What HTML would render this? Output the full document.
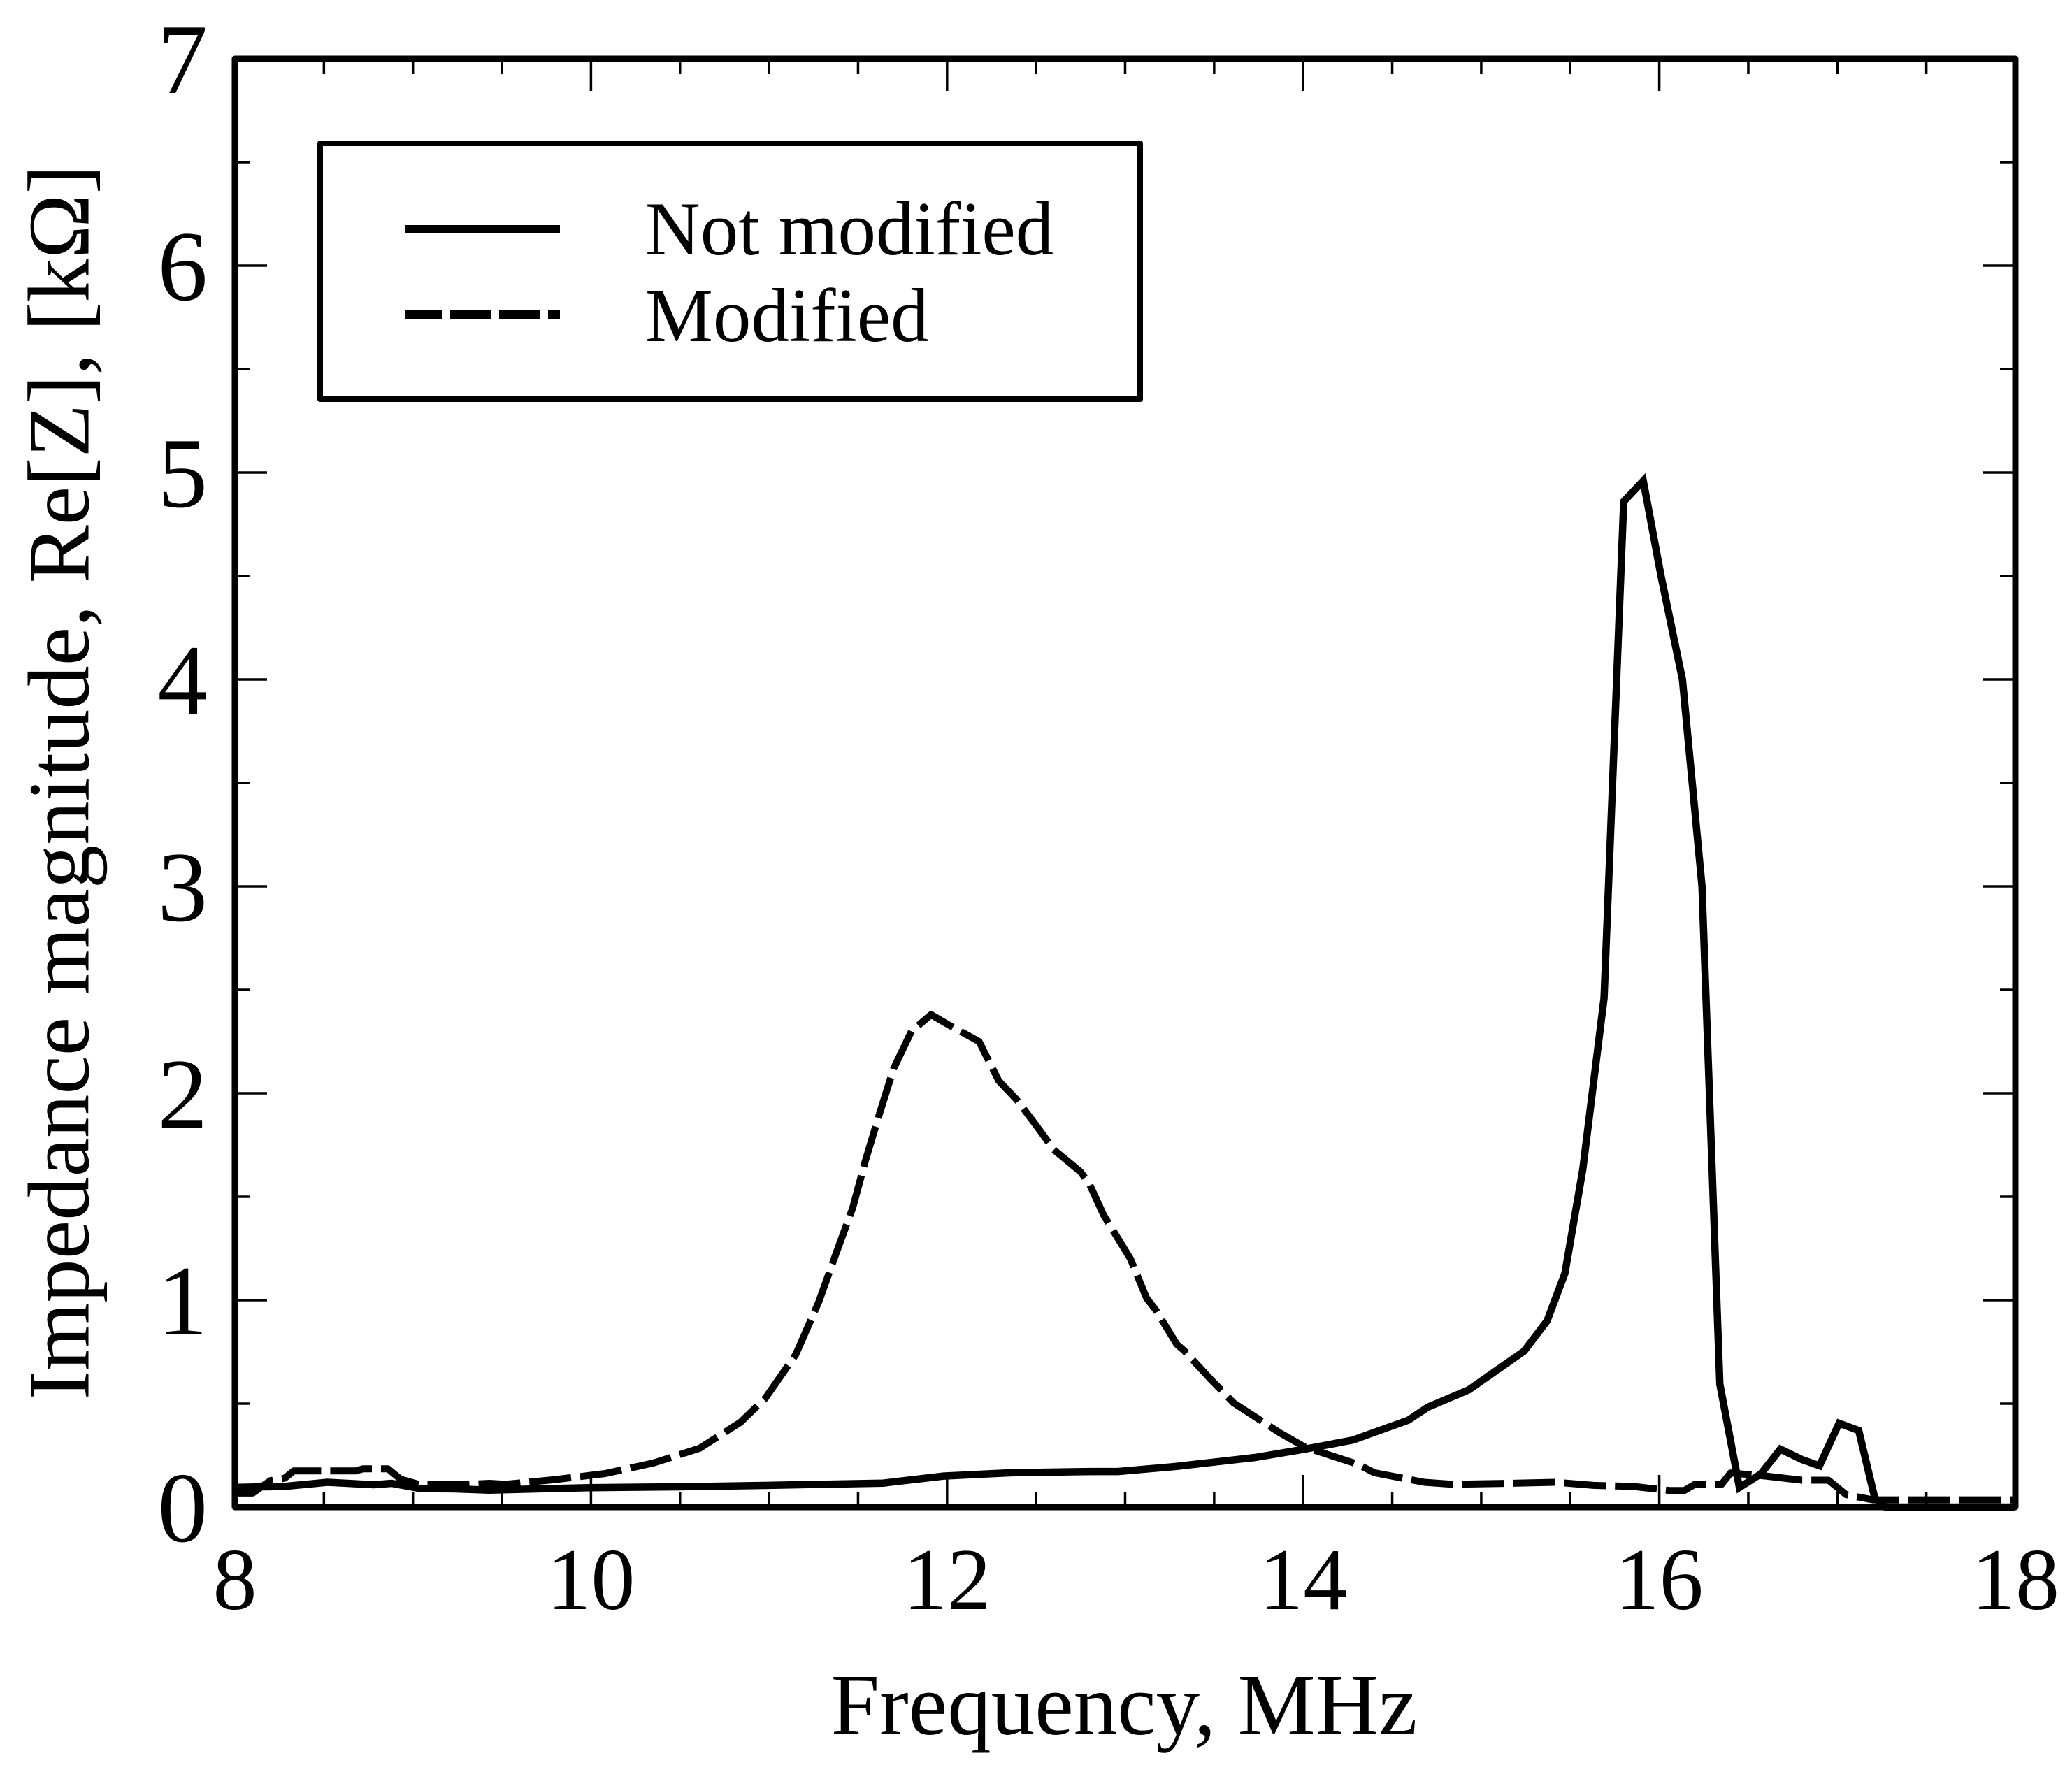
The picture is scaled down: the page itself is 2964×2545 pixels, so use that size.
<!DOCTYPE html>
<html lang="en">
<head>
<meta charset="utf-8">
<title>Impedance magnitude vs frequency</title>
<style>
html,body{margin:0;padding:0;background:#fff;}
svg{display:block;}
text{font-family:"Liberation Serif","DejaVu Serif",serif;fill:#000;}
</style>
</head>
<body>
<svg id="chart" xmlns="http://www.w3.org/2000/svg" width="2964" height="2545" viewBox="0 0 2964 2545">
  <rect x="0" y="0" width="2964" height="2545" fill="#fff"/>
  <g id="series"></g>
  <g id="ticks"></g>
  <rect x="336" y="84" width="2547" height="2072" fill="none" stroke="#000" stroke-width="9" stroke-linejoin="round"/>
  <text x="1608" y="2481" font-size="125" text-anchor="middle">Frequency, MHz</text>
  <text transform="translate(126.5 1119) rotate(-90)" font-size="124.8" text-anchor="middle">Impedance magnitude, Re[Z], [kΩ]</text>
  <g>
    <rect x="458" y="205" width="1173" height="366" fill="#fff" stroke="#000" stroke-width="8" stroke-linejoin="round"/>
    <line x1="579" y1="328" x2="801" y2="328" stroke="#000" stroke-width="12"/>
    <line x1="579" y1="450" x2="801" y2="450" stroke="#000" stroke-width="12" stroke-dasharray="53 12 58 12 58 12 29"/>
    <text x="923" y="364" font-size="109">Not modified</text>
    <text x="923" y="488" font-size="109">Modified</text>
  </g>
</svg>
<script>
const xTickLabels = [8, 10, 12, 14, 16, 18];
const yTickLabels = [0, 1, 2, 3, 4, 5, 6, 7];
const xMinorTicks = [8.5, 9, 9.5, 10.5, 11, 11.5, 12.5, 13, 13.5, 14.5, 15, 15.5, 16.5, 17, 17.5];
const yMinorTicks = [0.5, 1.5, 2.5, 3.5, 4.5, 5.5, 6.5];

const notModifiedFreq = [8, 8.28, 8.52, 8.78, 8.88, 9.04, 9.24, 9.43, 9.99, 10.49, 11, 11.64, 11.98, 12.36, 12.81, 12.96, 13.28, 13.73, 14.01, 14.28, 14.59, 14.7, 14.93, 15.24, 15.37, 15.47, 15.57, 15.69, 15.8, 15.91, 16.01, 16.13, 16.24, 16.34, 16.45, 16.57, 16.68, 16.8, 16.9, 17.01, 17.12, 17.21, 17.27, 18];
const notModifiedValues = [0.095, 0.1, 0.12, 0.108, 0.115, 0.09, 0.088, 0.082, 0.094, 0.098, 0.105, 0.116, 0.15, 0.166, 0.172, 0.172, 0.196, 0.24, 0.28, 0.324, 0.42, 0.483, 0.567, 0.753, 0.9, 1.13, 1.63, 2.46, 4.86, 4.96, 4.5, 4, 3, 0.595, 0.095, 0.16, 0.28, 0.23, 0.2, 0.405, 0.37, 0.045, 0, 0];

const modifiedFreq = [8, 8.1, 8.2, 8.28, 8.33, 8.44, 8.68, 8.72, 8.86, 8.93, 9.04, 9.25, 9.43, 9.52, 9.79, 10.08, 10.35, 10.61, 10.84, 10.98, 11.15, 11.28, 11.37, 11.47, 11.54, 11.62, 11.7, 11.8, 11.91, 12.01, 12.18, 12.29, 12.39, 12.5, 12.6, 12.75, 12.8, 12.88, 13.03, 13.12, 13.17, 13.29, 13.33, 13.48, 13.61, 13.87, 14.01, 14.31, 14.4, 14.68, 14.84, 15.15, 15.42, 15.63, 15.85, 16.06, 16.14, 16.2, 16.35, 16.4, 16.6, 16.8, 16.95, 17.05, 17.2, 17.5, 18];
const modifiedValues = [0.068, 0.068, 0.128, 0.14, 0.175, 0.175, 0.175, 0.185, 0.185, 0.135, 0.108, 0.108, 0.115, 0.11, 0.132, 0.162, 0.213, 0.284, 0.41, 0.527, 0.737, 0.993, 1.21, 1.446, 1.67, 1.9, 2.12, 2.3, 2.38, 2.33, 2.25, 2.06, 1.97, 1.845, 1.727, 1.62, 1.56, 1.41, 1.2, 1.01, 0.955, 0.787, 0.757, 0.618, 0.503, 0.358, 0.29, 0.206, 0.166, 0.12, 0.11, 0.115, 0.12, 0.105, 0.1, 0.08, 0.08, 0.11, 0.11, 0.165, 0.15, 0.13, 0.13, 0.06, 0.035, 0.035, 0.035];

const NS = 'http://www.w3.org/2000/svg';
const plotLeft = 336, plotRight = 2883, plotTop = 84, plotBottom = 2156;
const xMin = 8, xMax = 18, yMin = 0, yMax = 7;

function xScale(v) { return plotLeft + (v - xMin) / (xMax - xMin) * (plotRight - plotLeft); }
function yScale(v) { return plotBottom - (v - yMin) / (yMax - yMin) * (plotBottom - plotTop); }

const ticksLayer = document.getElementById('ticks');
const seriesLayer = document.getElementById('series');

function addTick(x1, y1, x2, y2, name) {
  const el = document.createElementNS(NS, 'line');
  el.setAttribute('x1', x1);
  el.setAttribute('y1', y1);
  el.setAttribute('x2', x2);
  el.setAttribute('y2', y2);
  el.setAttribute('stroke', '#000');
  el.setAttribute('stroke-width', '3.5');
  
  
  ticksLayer.appendChild(el);
}

function addLabel(x, y, size, str, name, anchor) {
  const el = document.createElementNS(NS, 'text');
  el.setAttribute('x', x);
  el.setAttribute('y', y);
  el.setAttribute('font-size', size);
  el.setAttribute('text-anchor', anchor);
  el.textContent = str;
  
  
  ticksLayer.appendChild(el);
}

const majorLen = 46, minorLen = 22;

xTickLabels.forEach(function (v) {
  const x = xScale(v);
  addTick(x, plotBottom, x, plotBottom - majorLen, 'x-major-tick');
  addTick(x, plotTop, x, plotTop + majorLen, 'x-major-tick-top');
  addLabel(x, 2302, 126, String(v), 'x-tick-label', 'middle');
});
xMinorTicks.forEach(function (v) {
  const x = xScale(v);
  addTick(x, plotBottom, x, plotBottom - minorLen, 'x-minor-tick');
  addTick(x, plotTop, x, plotTop + minorLen, 'x-minor-tick-top');
});
yTickLabels.forEach(function (v) {
  const y = yScale(v);
  addTick(plotLeft, y, plotLeft + majorLen, y, 'y-major-tick');
  addTick(plotRight, y, plotRight - majorLen, y, 'y-major-tick-right');
  addLabel(297, y + 49, 143, String(v), 'y-tick-label', 'end');
});
yMinorTicks.forEach(function (v) {
  const y = yScale(v);
  addTick(plotLeft, y, plotLeft + minorLen, y, 'y-minor-tick');
  addTick(plotRight, y, plotRight - minorLen, y, 'y-minor-tick-right');
});

function linePath(xs, ys) {
  return xs.map(function (f, i) {
    return (i ? 'L' : 'M') + xScale(f).toFixed(1) + ' ' + yScale(ys[i]).toFixed(1);
  }).join(' ');
}

const modifiedLine = document.createElementNS(NS, 'path');
modifiedLine.setAttribute('d', linePath(modifiedFreq, modifiedValues));
modifiedLine.setAttribute('fill', 'none');
modifiedLine.setAttribute('stroke', '#000');
modifiedLine.setAttribute('stroke-width', '10');
modifiedLine.setAttribute('stroke-linejoin', 'round');
modifiedLine.setAttribute('stroke-dasharray', '60 13');


seriesLayer.appendChild(modifiedLine);

const notModifiedLine = document.createElementNS(NS, 'path');
notModifiedLine.setAttribute('d', linePath(notModifiedFreq, notModifiedValues));
notModifiedLine.setAttribute('fill', 'none');
notModifiedLine.setAttribute('stroke', '#000');
notModifiedLine.setAttribute('stroke-width', '10.5');
notModifiedLine.setAttribute('stroke-linejoin', 'miter');


seriesLayer.appendChild(notModifiedLine);
</script>
</body>
</html>
